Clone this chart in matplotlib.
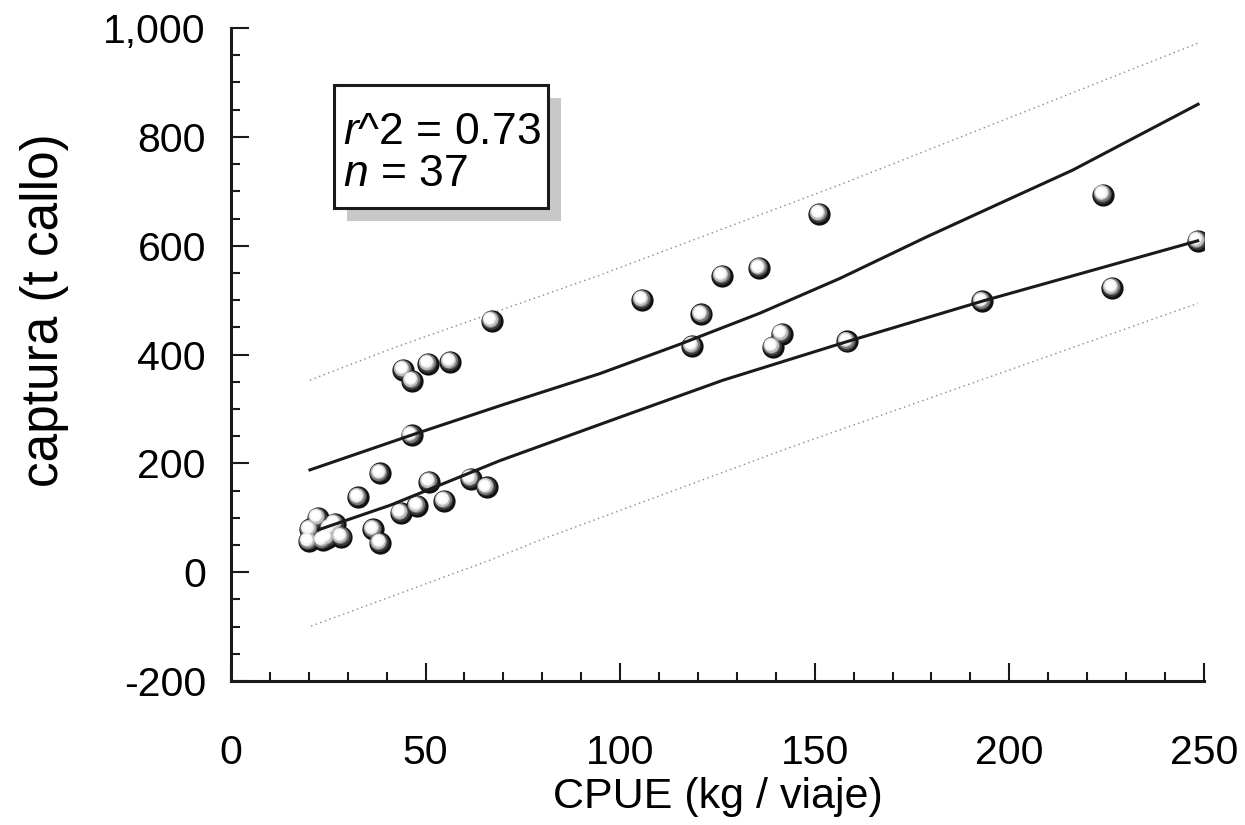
import numpy as np
import matplotlib
matplotlib.use('Agg')
import matplotlib.pyplot as plt
import matplotlib.transforms as mtransforms
from matplotlib.patches import Rectangle
from matplotlib.ticker import MultipleLocator, FuncFormatter

plt.rcParams['font.family'] = ['Liberation Sans', 'DejaVu Sans']
plt.rcParams['mathtext.fontset'] = 'custom'
plt.rcParams['mathtext.rm'] = 'Liberation Sans'
plt.rcParams['mathtext.it'] = 'Liberation Sans:italic'

# datos
cpue = [22.3, 20.3, 26.7, 20.0, 24.6, 28.4, 32.7, 36.6, 38.3, 38.3,
        43.6, 47.9, 54.8, 50.9, 61.6, 65.7, 46.4, 44.3, 46.6, 50.7,
        56.3, 67.0, 105.7, 118.5, 120.9, 126.2, 135.7, 139.2, 141.5, 151.2,
        158.4, 193.0, 224.1, 226.5, 248.4, 23.6, 25.4]
captura = [100, 79, 89, 57, 63, 65, 138, 79, 54, 182,
           109, 122, 131, 166, 172, 156, 252, 372, 352, 383,
           387, 462, 501, 416, 474, 545, 559, 414, 438, 659,
           424, 498, 694, 523, 609, 59, 81]

# curva ajustada
fit_x = [22.5, 40.9, 69.1, 100.0, 126.5, 158.4, 193.0, 248.4]
fit_y = [78, 123, 205, 285, 353, 424, 498, 609]

# curva superior
up_x = [20.3, 46.4, 70.0, 94.8, 115.0, 135.9, 156.5, 178.7, 197.0, 216.3, 248.5]
up_y = [188, 252, 308, 365, 418, 476, 540, 616, 676, 739, 860]

# limites de prediccion (punteados)
pi_hi_x = [20.3, 42.1, 94.8, 156.5, 248.4]
pi_hi_y = [353, 413, 546, 712, 972]
pi_lo_x = [20.6, 66.5, 79.4, 142.8, 248.4]
pi_lo_y = [-99, 22, 59, 227, 494]

fig = plt.figure(figsize=(12.45, 8.25), dpi=100)
ax = fig.add_axes([0.1855, 0.1745, 0.7815, 0.7915])

# esferas sombreadas
layers = [(16.0, 0.0, '#111111'),
          (13.6, -0.7, '#3a3a3a'),
          (12.2, -1.1, '#7a7a7a'),
          (10.8, -1.5, '#bdbdbd'),
          (9.0, -1.8, '#f4f4f4'),
          (6.5, -2.0, '#ffffff')]
for size, off, col in layers:
    tr = ax.transData + mtransforms.ScaledTranslation(off / 72, -off / 72, fig.dpi_scale_trans)
    ax.scatter(cpue, captura, s=size ** 2, color=col, linewidths=0, transform=tr, zorder=3)

ax.plot(fit_x, fit_y, color='#1a1a1a', lw=2.2, zorder=4)
ax.plot(up_x, up_y, color='#1a1a1a', lw=2.2, zorder=4)
ax.plot(pi_hi_x, pi_hi_y, color='#888888', lw=1.0, ls=(0, (1, 2.5)), zorder=2)
ax.plot(pi_lo_x, pi_lo_y, color='#888888', lw=1.0, ls=(0, (1, 2.5)), zorder=2)

ax.set_xlim(0, 250)
ax.set_ylim(-200, 1000)
for s in ['top', 'right']:
    ax.spines[s].set_visible(False)
for s in ['left', 'bottom']:
    ax.spines[s].set_linewidth(2.2)
    ax.spines[s].set_color('#1a1a1a')

ax.xaxis.set_major_locator(MultipleLocator(50))
ax.xaxis.set_minor_locator(MultipleLocator(10))
ax.yaxis.set_major_locator(MultipleLocator(200))
ax.yaxis.set_minor_locator(MultipleLocator(50))
ax.yaxis.set_major_formatter(FuncFormatter(lambda v, p: f'{int(v):,}'))
ax.tick_params(which='major', direction='in', length=13, width=1.5, labelsize=29.5, color='#1a1a1a')
ax.tick_params(which='minor', direction='in', length=6.5, width=1.5, color='#1a1a1a')
ax.tick_params(axis='x', which='major', pad=38)
ax.tick_params(axis='y', which='major', pad=18)

ax.set_xlabel('CPUE (kg / viaje)', fontsize=31, labelpad=4)
fig.text(0.036, 0.624, 'captura (t callo)', fontsize=37, rotation=90,
         ha='center', va='center')

# recuadro con sombra
ax.add_patch(Rectangle((0.1193, 0.7044), 0.2199, 0.1884, transform=ax.transAxes,
                       facecolor='#c8c8c8', edgecolor='none', zorder=5))
ax.add_patch(Rectangle((0.1059, 0.7243), 0.2199, 0.1884, transform=ax.transAxes,
                       facecolor='white', edgecolor='#1a1a1a', lw=2.2, zorder=6))
ax.text(0.115, 0.840, '$r$^2 = 0.73', transform=ax.transAxes, fontsize=32,
        va='center', ha='left', zorder=7)
ax.text(0.115, 0.775, '$n$ = 37', transform=ax.transAxes, fontsize=32,
        va='center', ha='left', zorder=7)

fig.savefig('out.png', dpi=100)
